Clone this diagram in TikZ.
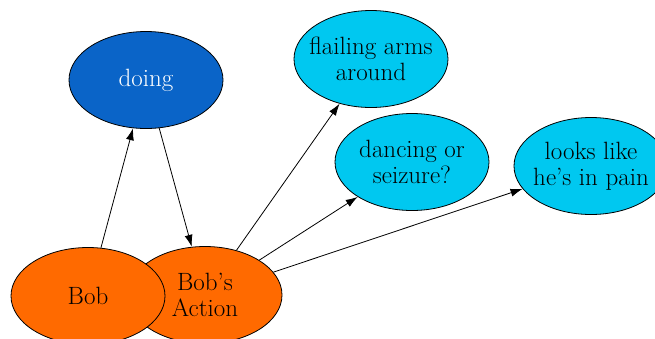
\documentclass[tikz,border=0pt]{standalone}
\usepackage{tikz}
\usetikzlibrary{shapes.geometric,arrows.meta}
\definecolor{bobOrange}{RGB}{255,106,0}
\definecolor{doingBlue}{RGB}{10,100,200}
\definecolor{thoughtCyan}{RGB}{0,200,240}

\begin{document}
\begin{tikzpicture}[x=1pt,y=-1pt,
  bubble/.style={draw,ellipse,line width=0.8pt,minimum width=154pt,minimum height=97pt,inner xsep=-10pt,inner ysep=0pt,align=center,font=\fontsize{25}{26}\selectfont},
  edge/.style={-{Latex[length=12pt,width=8pt]},line width=0.8pt}]
\useasboundingbox (0,0) rectangle (655,338);
% Bob, what he is doing, and how it looks
\node[bubble,fill=doingBlue,text=white] (doing) at (146,80) {doing};
\node[bubble,fill=bobOrange] (action) at (205,295) {Bob's\\Action};
\node[bubble,fill=bobOrange] (bob) at (88,296) {Bob};
\node[bubble,fill=thoughtCyan] (flail) at (371,59) {flailing arms\\around};
\node[bubble,fill=thoughtCyan] (dance) at (412,162) {dancing or\\seizure?};
\node[bubble,fill=thoughtCyan] (pain) at (591,166) {looks like\\he's in pain};

\draw[edge] (bob) -- (doing);
\draw[edge] (doing) -- (action);
\draw[edge] (action) -- (flail);
\draw[edge] (action) -- (dance);
\draw[edge] (action) -- (pain);
\end{tikzpicture}
\end{document}
